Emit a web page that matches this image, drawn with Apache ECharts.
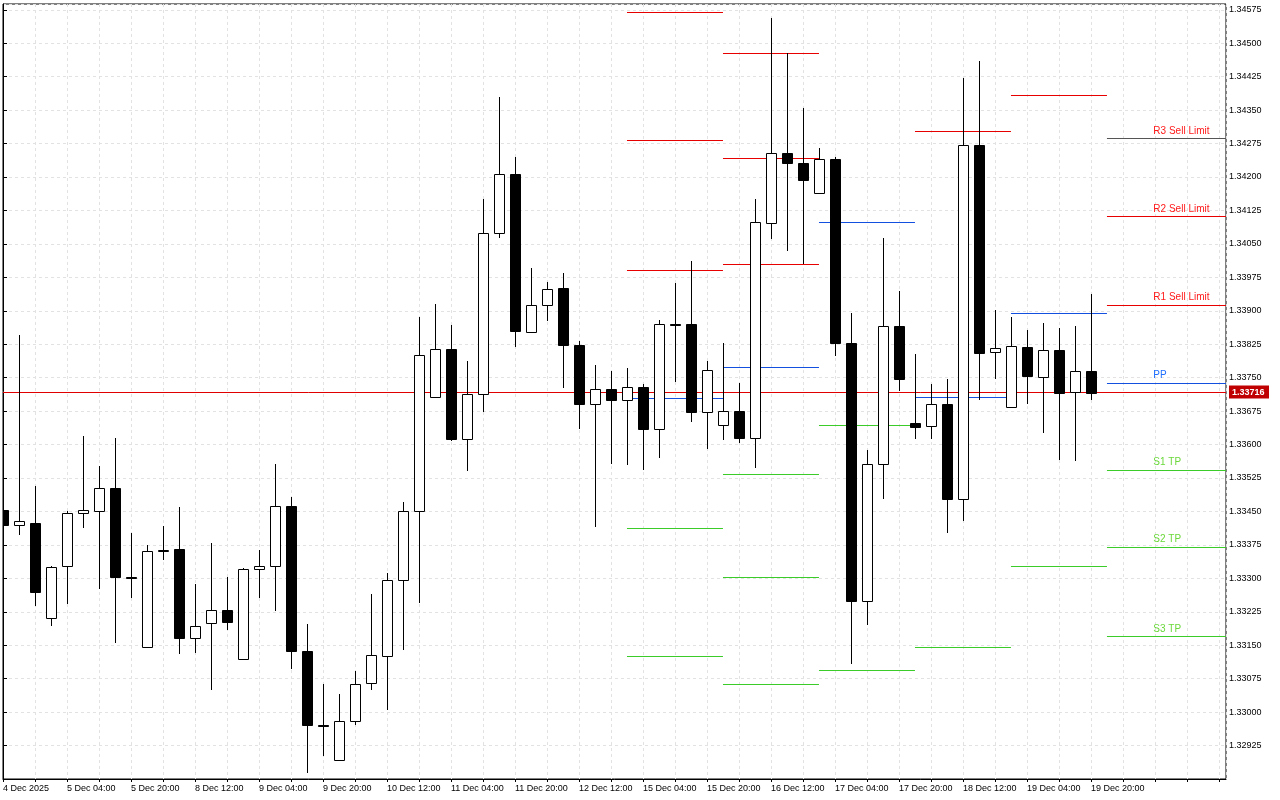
<!DOCTYPE html>
<html>
<head>
<meta charset="utf-8">
<script src="https://cdn.jsdelivr.net/npm/echarts@6.0.0/dist/echarts.min.js"></script>
<style>
  html, body { margin: 0; padding: 0; background: #fff; }
  #chart { width: 1280px; height: 800px; }
</style>
</head>
<body>
<div id="chart"></div>
<script>
/* ── data (H4 bars, 4 Dec 12:00 .. 19 Dec 20:00) ── */
const tickLabels = [
  "4 Dec 2025", "5 Dec 04:00", "5 Dec 20:00", "8 Dec 12:00", "9 Dec 04:00", "9 Dec 20:00",
  "10 Dec 12:00", "11 Dec 04:00", "11 Dec 20:00", "12 Dec 12:00", "15 Dec 04:00", "15 Dec 20:00",
  "16 Dec 12:00", "17 Dec 04:00", "17 Dec 20:00", "18 Dec 12:00", "19 Dec 04:00", "19 Dec 20:00",
];
const opens = [
  1.33453, 1.33419, 1.33424, 1.33210, 1.33327, 1.33446, 1.33452, 1.33502, 1.33304, 1.33145,
  1.33362, 1.33366, 1.33166, 1.33199, 1.33230, 1.33120, 1.33322, 1.33327, 1.33463, 1.33138,
  1.32972, 1.32893, 1.32979, 1.33065, 1.33126, 1.33297, 1.33452, 1.33706, 1.33814, 1.33612,
  1.33713, 1.34074, 1.34206, 1.33852, 1.33914, 1.33950, 1.33823, 1.33690, 1.33724, 1.33699,
  1.33728, 1.33636, 1.33871, 1.33870, 1.33672, 1.33643, 1.33675, 1.33614, 1.34097, 1.34254,
  1.34232, 1.34164, 1.34241, 1.33827, 1.33250, 1.33556, 1.33866, 1.33648, 1.33642, 1.33692,
  1.33479, 1.34272, 1.33808, 1.33685, 1.33818, 1.33751, 1.33811, 1.33718, 1.33766,
];
const highs = [
  1.33460, 1.33846, 1.33507, 1.33328, 1.33451, 1.33619, 1.33553, 1.33614, 1.33401, 1.33375,
  1.33417, 1.33460, 1.33287, 1.33380, 1.33302, 1.33324, 1.33364, 1.33557, 1.33483, 1.33198,
  1.33062, 1.33041, 1.33092, 1.33265, 1.33312, 1.33471, 1.33885, 1.33916, 1.33869, 1.33787,
  1.34151, 1.34380, 1.34245, 1.33995, 1.33965, 1.33985, 1.33833, 1.33779, 1.33765, 1.33771,
  1.33735, 1.33879, 1.33962, 1.34012, 1.33787, 1.33828, 1.33737, 1.34151, 1.34556, 1.34477,
  1.34355, 1.34266, 1.34245, 1.33895, 1.33588, 1.34063, 1.33945, 1.33803, 1.33736, 1.33747,
  1.34423, 1.34460, 1.33902, 1.33887, 1.33857, 1.33872, 1.33861, 1.33865, 1.33938,
];
const lows = [
  1.33410, 1.33398, 1.33239, 1.33192, 1.33242, 1.33414, 1.33277, 1.33156, 1.33255, 1.33143,
  1.33342, 1.33130, 1.33132, 1.33050, 1.33185, 1.33118, 1.33255, 1.33227, 1.33096, 1.32864,
  1.32901, 1.32891, 1.32970, 1.33050, 1.33004, 1.33139, 1.33245, 1.33704, 1.33608, 1.33540,
  1.33674, 1.34064, 1.33818, 1.33850, 1.33878, 1.33727, 1.33636, 1.33416, 1.33557, 1.33554,
  1.33542, 1.33569, 1.33741, 1.33651, 1.33591, 1.33611, 1.33603, 1.33548, 1.34062, 1.34035,
  1.34005, 1.34162, 1.33799, 1.33109, 1.33196, 1.33479, 1.33720, 1.33613, 1.33613, 1.33402,
  1.33428, 1.33699, 1.33746, 1.33683, 1.33692, 1.33625, 1.33565, 1.33563, 1.33700,
];
const closes = [
  1.33419, 1.33428, 1.33269, 1.33326, 1.33446, 1.33453, 1.33502, 1.33304, 1.33302, 1.33362,
  1.33363, 1.33166, 1.33192, 1.33230, 1.33201, 1.33322, 1.33328, 1.33463, 1.33138, 1.32970,
  1.32970, 1.32981, 1.33064, 1.33127, 1.33297, 1.33452, 1.33800, 1.33814, 1.33612, 1.33713,
  1.34074, 1.34206, 1.33854, 1.33914, 1.33949, 1.33823, 1.33690, 1.33724, 1.33699, 1.33728,
  1.33636, 1.33871, 1.33870, 1.33672, 1.33768, 1.33675, 1.33614, 1.34099, 1.34254, 1.34232,
  1.34193, 1.34241, 1.33827, 1.33250, 1.33556, 1.33867, 1.33746, 1.33640, 1.33690, 1.33479,
  1.34272, 1.33806, 1.33816, 1.33820, 1.33753, 1.33811, 1.33716, 1.33764, 1.33716,
];
const lastPrice = 1.33716;

/* daily pivot segments: bar index where each day starts/ends */
const pivotStart = [39, 45, 51, 57, 63, 69];
const pivotEnd   = [45, 51, 57, 63, 69, 76.5];
const r3Levels = [1.34569, 1.34477, null, null, null, 1.34288];
const r2Levels = [1.34282, 1.34242, null, null, null, 1.34112];
const r1Levels = [1.33992, 1.34005, null, 1.34303, 1.34384, 1.33914];
const ppLevels = [1.33705, 1.33774, 1.34099, 1.33707, 1.33894, 1.33739];
const s1Levels = [1.33413, 1.33535, 1.33643, 1.33147, 1.33327, 1.33544];
const s2Levels = [1.33125, 1.33304, 1.33095, null, null, 1.33371];
const s3Levels = [null, 1.33064, null, null, null, 1.33171];
const levelNames = ["R3 Sell Limit", "R2 Sell Limit", "R1 Sell Limit", "PP", "S1 TP", "S2 TP", "S3 TP"];

/* ── constants ── */
const BASE = 1.32850;            // price at bottom edge
const toY = (p) => (p - BASE) * 1e5;
const FONT = "Liberation Sans, Arial, sans-serif";
const RED = "#e60000";
const BLUE = "#1450e0";
const GREEN = "#3ccc2a";
const LINE_COLORS = [RED, RED, RED, BLUE, GREEN, GREEN, GREEN];
const TEXT_COLORS = ["#ff1a1a", "#ff1a1a", "#ff1a1a", "#1e6eff", "#6ad83a", "#6ad83a", "#6ad83a"];

/* ── build data ── */
const candleData = opens.map((o, i) => [i, toY(o), toY(closes[i]), toY(lows[i]), toY(highs[i])]);

const allLevels = [r3Levels, r2Levels, r1Levels, ppLevels, s1Levels, s2Levels, s3Levels];
const lastDay = pivotStart.length - 1;
const pivotData = [];
allLevels.forEach((arr, k) => {
  arr.forEach((lv, d) => {
    if (lv != null) pivotData.push([pivotStart[d], pivotEnd[d], toY(lv), k, d]);
  });
});
const labelData = allLevels.map((arr, k) => [71.9, toY(arr[lastDay]), k]);
const priceLineData = [[0, 76.44, toY(lastPrice)]];

const crisp = (v) => Math.round(v) + 0.5;

function renderCandle(params, api) {
  const i = api.value(0);
  const o = api.value(1), c = api.value(2), l = api.value(3), h = api.value(4);
  const x = crisp(api.coord([i, o])[0]);
  const yo = api.coord([i, o])[1], yc = api.coord([i, c])[1];
  const yl = api.coord([i, l])[1], yh = api.coord([i, h])[1];
  const top = Math.round(Math.min(yo, yc)) + 0.5;
  const bot = Math.max(Math.round(Math.max(yo, yc)) + 0.5, top + 1);
  const bull = c >= o;
  return {
    type: "group",
    children: [
      { type: "line", shape: { x1: x, y1: Math.round(yh), x2: x, y2: Math.round(yl) }, style: { stroke: "#000", lineWidth: 1 } },
      { type: "rect", shape: { x: x - 5, y: top, width: 10, height: bot - top },
        style: { fill: bull ? "#fff" : "#000", stroke: "#000", lineWidth: 1 } },
    ],
  };
}

function renderPivot(params, api) {
  const a = api.coord([api.value(0), api.value(2)]);
  const b = api.coord([api.value(1), api.value(2)]);
  const y = crisp(a[1]);
  const k = api.value(3);
  // today's R3 is drawn in grey on the reference
  const color = k === 0 && api.value(4) === lastDay ? "#555555" : LINE_COLORS[k];
  return {
    type: "line",
    shape: { x1: a[0], y1: y, x2: b[0], y2: y },
    style: { stroke: color, lineWidth: 1 },
  };
}

function renderLabel(params, api) {
  const p = api.coord([api.value(0), api.value(1)]);
  const k = api.value(2);
  return {
    type: "text",
    x: p[0], y: p[1] - 2,
    style: { text: levelNames[k], fill: TEXT_COLORS[k], font: `10px ${FONT}`, textAlign: "left", textVerticalAlign: "bottom" },
  };
}

function renderPriceLine(params, api) {
  const a = api.coord([api.value(0), api.value(2)]);
  const b = api.coord([api.value(1), api.value(2)]);
  const y = Math.floor(a[1]) + 0.5;
  return {
    type: "group",
    children: [
      { type: "line", shape: { x1: a[0], y1: y, x2: b[0], y2: y }, style: { stroke: "#e00000", lineWidth: 1 } },
      { type: "rect", shape: { x: b[0] + 3, y: y - 7, width: 40, height: 13 }, style: { fill: "#c00000" } },
      { type: "text", x: b[0] + 6, y: y, style: { text: lastPrice.toFixed(5), fill: "#fff", font: `bold 9px ${FONT}`, textAlign: "left", textVerticalAlign: "middle" } },
    ],
  };
}

const chart = echarts.init(document.getElementById("chart"));
chart.setOption({
  animation: false,
  backgroundColor: "#fff",
  grid: { left: 3, right: 54, top: 4, bottom: 21, show: true, borderColor: "#000", borderWidth: 1, backgroundColor: "transparent" },
  xAxis: {
    type: "value", min: 0, max: 76.44, interval: 2,
    axisLine: { show: true, lineStyle: { color: "#000" } },
    axisTick: { show: true, length: 3, lineStyle: { color: "#000" } },
    axisLabel: {
      color: "#000", fontFamily: FONT, fontSize: 9, align: "left", margin: 5,
      showMaxLabel: false,
      formatter: (v) => (v % 4 === 0 && tickLabels[v / 4] ? tickLabels[v / 4] : ""),
    },
    splitLine: { show: true, lineStyle: { color: "#e2e2e2", type: [3, 3] } },
  },
  yAxis: {
    type: "value", position: "right", min: 0, max: toY(1.34588), interval: 75,
    axisLine: { show: true, lineStyle: { color: "#000" } },
    axisTick: { show: true, length: 4, inside: false, lineStyle: { color: "#000" } },
    axisLabel: {
      color: "#000", fontFamily: FONT, fontSize: 9, margin: 3,
      showMinLabel: false, showMaxLabel: false,
      formatter: (v) => (v > 0 && Math.round(v) % 75 === 0 ? (BASE + v / 1e5).toFixed(5) : ""),
    },
    splitLine: { show: true, lineStyle: { color: "#e2e2e2", type: [3, 3] } },
  },
  series: [
    {
      type: "custom", name: "pivots", renderItem: renderPivot,
      encode: { x: [0, 1], y: 2 }, data: pivotData, clip: true, silent: true, z: 2,
    },
    {
      type: "custom", name: "last", renderItem: renderPriceLine,
      encode: { x: [0, 1], y: 2 }, data: priceLineData, clip: false, silent: true, z: 3,
    },
    {
      type: "custom", name: "price", renderItem: renderCandle,
      encode: { x: 0, y: [1, 2, 3, 4] }, data: candleData, clip: true, z: 5,
    },
    {
      type: "custom", name: "labels", renderItem: renderLabel,
      encode: { x: 0, y: 1 }, data: labelData, clip: false, silent: true, z: 6,
    },
  ],
});
</script>
</body>
</html>
